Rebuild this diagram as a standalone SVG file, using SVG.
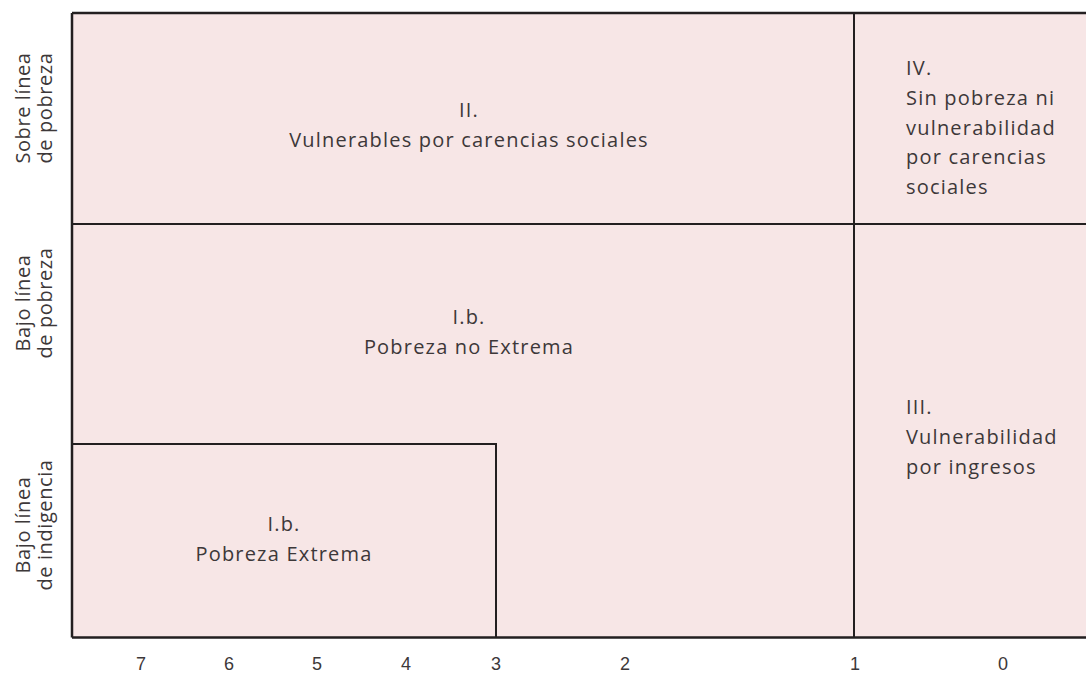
<svg xmlns="http://www.w3.org/2000/svg" width="1086" height="673" viewBox="0 0 1086 673">
<style>
text{font-family:"Open Sans","Liberation Sans",sans-serif;font-size:20px;fill:#3d3839;letter-spacing:1.2px}
.c{text-anchor:middle}
.ln{stroke:#231f20;stroke-width:2;fill:none}
.yl{letter-spacing:0.6px}
.ax{font-family:"Liberation Sans",sans-serif;font-size:18px;letter-spacing:0}
</style>
<rect x="72" y="13" width="1014" height="624" fill="#f7e6e6"/>
<g id="connectors">
<path class="ln" d="M72,13 H1086 M72,13 V637.5 M72,637.5 H1086" style="stroke-width:2.5"/>
<path class="ln" d="M72,224 H1086 M854,13 V637 M72,444 H496 V637"/>
</g>
<g id="node-II"><text class="c" x="469" y="117">II.</text><text class="c" x="469" y="147">Vulnerables por carencias sociales</text></g>
<g id="node-IV"><text x="906" y="75">IV.</text><text x="906" y="105">Sin pobreza ni</text><text x="906" y="135">vulnerabilidad</text><text x="906" y="164">por carencias</text><text x="906" y="194">sociales</text></g>
<g id="node-Ib"><text class="c" x="469" y="324">I.b.</text><text class="c" x="469" y="354">Pobreza no Extrema</text></g>
<g id="node-Ib-ext"><text class="c" x="284" y="531">I.b.</text><text class="c" x="284" y="561">Pobreza Extrema</text></g>
<g id="node-III"><text x="906" y="414">III.</text><text x="906" y="444">Vulnerabilidad</text><text x="906" y="474">por ingresos</text></g>
<g id="y-labels">
<text class="c yl" transform="translate(30,108) rotate(-90)">Sobre línea<tspan x="0" dy="22">de pobreza</tspan></text>
<text class="c yl" transform="translate(30,303) rotate(-90)">Bajo línea<tspan x="0" dy="22">de pobreza</tspan></text>
<text class="c yl" transform="translate(30,525) rotate(-90)">Bajo línea<tspan x="0" dy="22">de indigencia</tspan></text>
</g>
<g id="x-axis">
<text class="c ax" x="141" y="670">7</text><text class="c ax" x="229" y="670">6</text><text class="c ax" x="317" y="670">5</text><text class="c ax" x="406" y="670">4</text><text class="c ax" x="496" y="670">3</text><text class="c ax" x="625" y="670">2</text><text class="c ax" x="855" y="670">1</text><text class="c ax" x="1003" y="670">0</text>
</g>
</svg>
